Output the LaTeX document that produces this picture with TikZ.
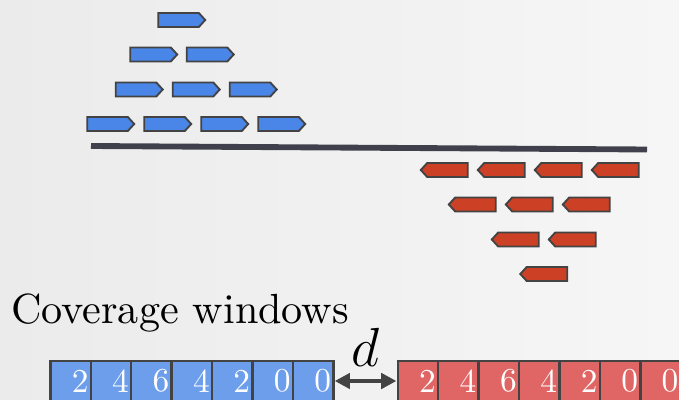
\RequirePackage{fix-cm}
\documentclass[tikz,border=0pt]{standalone}
\usepackage{fontspec}
\setmainfont{lmroman10-regular.otf}
\usetikzlibrary{shapes.symbols,arrows.meta,positioning}

\definecolor{genedraw}{HTML}{434343}
\definecolor{fwdfill}{HTML}{4A86E8}
\definecolor{revfill}{HTML}{CC4125}
\definecolor{fwdcell}{HTML}{6D9EEB}
\definecolor{revcell}{HTML}{E06666}
\definecolor{bgleft}{HTML}{EBEBEB}
\definecolor{bgright}{HTML}{F6F6F6}

\begin{document}
\begin{tikzpicture}[x=0.03cm, y=-0.03cm]
\tikzstyle{gene} = [signal, draw=genedraw, line width=1.6pt, inner sep=0pt,
minimum width=1.41cm, minimum height=0.42cm, signal pointer angle=95]
\tikzstyle{gene_fwd} = [gene, fill=fwdfill, signal to=east]
\tikzstyle{gene_rev} = [gene, fill=revfill, signal to=west]
\tikzstyle{cell} = [rectangle, draw=genedraw, line width=2pt, text=white,
text width=30.5pt, align=right, inner xsep=2pt, minimum height=1.2cm,
font=\fontsize{28.5}{30}\selectfont]
\tikzstyle{cell_fwd} = [cell, fill=fwdcell]
\tikzstyle{cell_rev} = [cell, fill=revcell]
\tikzstyle{dist} = [draw=genedraw, line width=4pt,
{Triangle[length=13pt,width=13pt]}-{Triangle[length=13pt,width=13pt]}]

\clip (0,0) rectangle (679,400);
\fill[left color=bgleft, right color=bgright] (0,0) rectangle (679,400);

% forward reads, stacked up
\node [gene_fwd] (f11) at (178.5,20) {};
\node [gene_fwd] (f21) at (150.5,54.5) {};
\node [gene_fwd] (f22) at (207,54.5) {};
\node [gene_fwd] (f31) at (136,89.5) {};
\node [gene_fwd] (f32) at (193,89.5) {};
\node [gene_fwd] (f33) at (250,89.5) {};
\node [gene_fwd] (f41) at (107.5,124) {};
\node [gene_fwd] (f42) at (164.5,124) {};
\node [gene_fwd] (f43) at (221.5,124) {};
\node [gene_fwd] (f44) at (278.5,124) {};

% reference line
\draw [genedraw!95!blue, line width=5pt] (91,146) -- (647,149.5);

% reverse reads, hanging down
\node [gene_rev] (r11) at (447.5,170) {};
\node [gene_rev] (r12) at (504.5,170) {};
\node [gene_rev] (r13) at (561.5,170) {};
\node [gene_rev] (r14) at (618.5,170) {};
\node [gene_rev] (r21) at (475.5,204.5) {};
\node [gene_rev] (r22) at (532.5,204.5) {};
\node [gene_rev] (r23) at (589.5,204.5) {};
\node [gene_rev] (r31) at (518.5,239.5) {};
\node [gene_rev] (r32) at (575.5,239.5) {};
\node [gene_rev] (r41) at (547,274) {};

\node [anchor=base west, inner sep=0pt, font=\fontsize{36}{40}\selectfont]
(covtitle) at (11,323) {Coverage windows};

\matrix (fwdwin) [column sep=-2pt, inner sep=0pt, anchor=west] at (49,381)
{
\node [cell_fwd] {2}; & \node [cell_fwd] {4}; & \node [cell_fwd] {6}; &
\node [cell_fwd] {4}; & \node [cell_fwd] {2}; & \node [cell_fwd] {0}; &
\node [cell_fwd] {0}; \\
};
\matrix (revwin) [column sep=-2pt, inner sep=0pt, right=1.85cm of fwdwin]
{
\node [cell_rev] {2}; & \node [cell_rev] {4}; & \node [cell_rev] {6}; &
\node [cell_rev] {4}; & \node [cell_rev] {2}; & \node [cell_rev] {0}; &
\node [cell_rev] {0}; \\
};

\path [dist] (fwdwin) -- node [above=10.5pt, inner sep=0pt,
font=\fontsize{47}{52}\selectfont] (dlabel) {$d$} (revwin);

\end{tikzpicture}
\end{document}
